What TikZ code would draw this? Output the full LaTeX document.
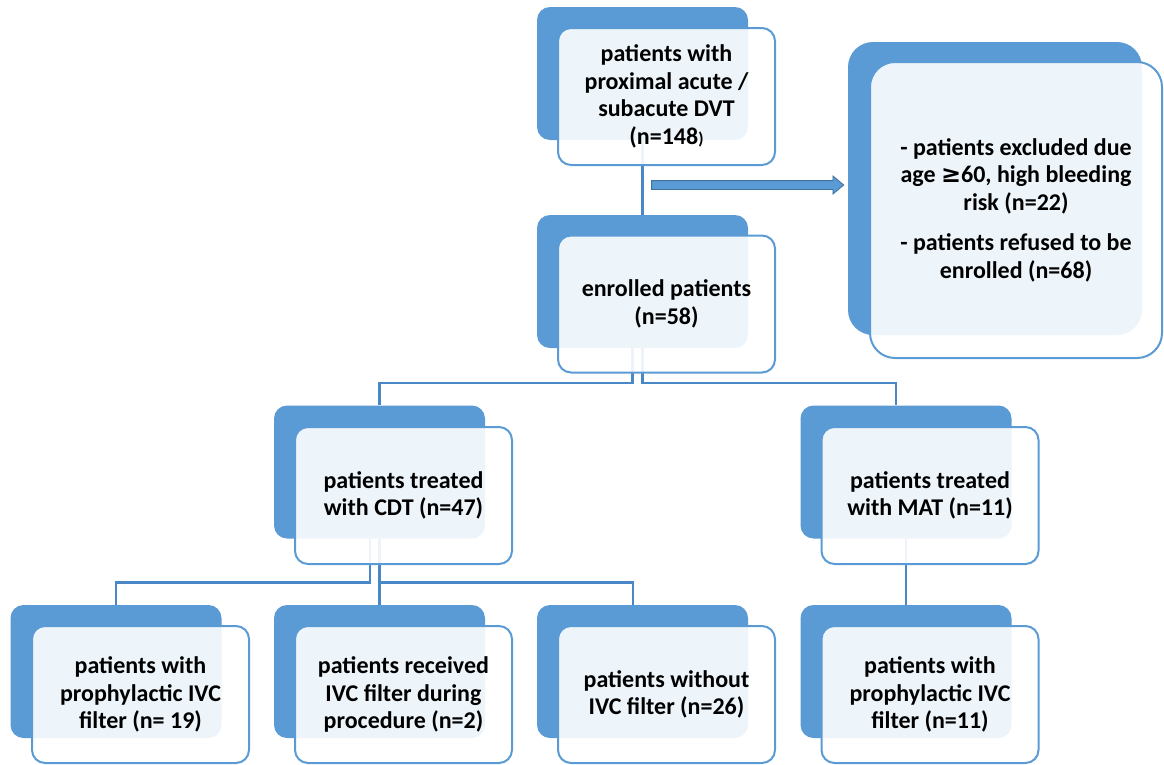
\documentclass[tikz,border=0pt]{standalone}
\usepackage{fontspec}
\setmainfont{Carlito}
\newfontfamily\symfont{DejaVu Sans}
\usetikzlibrary{shapes.arrows,backgrounds}

\definecolor{boxblue}{HTML}{5B9BD5}
\definecolor{lineblue}{HTML}{4A87C6}
\definecolor{arrowline}{HTML}{41719C}

\tikzset{
  backbox/.style={fill=boxblue, rounded corners=13pt, minimum width=211pt,
    minimum height=133pt, inner sep=0pt},
  frontbox/.style={draw=boxblue, line width=2pt, fill=white, fill opacity=0.9,
    text opacity=1, rounded corners=13pt, minimum width=217pt, minimum height=137pt,
    inner sep=0pt, align=center, font=\fontsize{24}{27.5}\selectfont\bfseries},
  link/.style={draw=lineblue, line width=2.5pt},
  exclarrow/.style={single arrow, fill=boxblue, draw=arrowline, line width=0.9pt,
    inner sep=4pt, minimum height=192pt, single arrow head extend=4.5pt,
    single arrow tip angle=80},
}

\begin{document}
\begin{tikzpicture}[x=1pt, y=-1pt]
  \useasboundingbox (0,0) rectangle (1164,764);

  %back boxes
  \node[backbox] (topB) at (642.5,73.5) {};
  \node[backbox, minimum width=294pt, minimum height=293pt, rounded corners=25pt] (exclB) at (995,188.5) {};
  \node[backbox] (enrB) at (642.5,281.5) {};
  \node[backbox] (cdtB) at (379.5,472) {};
  \node[backbox] (matB) at (906,472) {};
  \node[backbox] (b1B) at (116,671.5) {};
  \node[backbox] (b2B) at (379.5,671.5) {};
  \node[backbox] (b3B) at (642.5,671.5) {};
  \node[backbox] (b4B) at (906,671.5) {};

  %front boxes with the counts
  \node[frontbox] (topF) at ([shift={(24,23)}]topB.center)
    {patients with\\proximal acute /\\subacute DVT\\(n=148{\fontsize{17}{17}\selectfont)}};
  \node[frontbox, minimum width=292pt, minimum height=296pt, rounded corners=25pt] (exclF)
    at ([shift={(21,21.5)}]exclB.center)
    {- patients excluded due\\age {\symfont ≥}60, high bleeding\\risk (n=22)\\[13pt]
     - patients refused to be\\enrolled (n=68)};
  \node[frontbox] (enrF) at ([shift={(24,22.5)}]enrB.center) {enrolled patients\\(n=58)};
  \node[frontbox] (cdtF) at ([shift={(24,23.5)}]cdtB.center) {patients treated\\with CDT (n=47)};
  \node[frontbox] (matF) at ([shift={(24,23.5)}]matB.center) {patients treated\\with MAT (n=11)};
  \node[frontbox] (b1F) at ([shift={(24.5,23)}]b1B.center) {patients with\\prophylactic IVC\\filter (n= 19)};
  \node[frontbox] (b2F) at ([shift={(24,23)}]b2B.center) {patients received\\IVC filter during\\procedure (n=2)};
  \node[frontbox] (b3F) at ([shift={(24,23)}]b3B.center) {patients without\\IVC filter (n=26)};
  \node[frontbox] (b4F) at ([shift={(24,23)}]b4B.center) {patients with\\prophylactic IVC\\filter (n=11)};

  %excluded arrow
  \node[exclarrow] (excl) at (745,185) {};

  %tree lines, under the boxes
  \begin{pgfonlayer}{background}
    \draw[link] (topB.south) -- (enrB.north);
    \draw[link] ([xshift=-10pt]enrB.south) -- ++(0,35) -| (cdtB.north);
    \draw[link] (enrB.south) -- ++(0,35) -| ([xshift=-10pt]matB.north);
    \draw[link] ([xshift=-9.5pt]cdtB.south) -- ++(0,44) -| (b1B.north);
    \draw[link] (cdtB.south) -- (b2B.north);
    \draw[link] (cdtB.south) -- ++(0,44) -| ([xshift=-9.5pt]b3B.north);
    \draw[link] (matB.south) -- (b4B.north);
  \end{pgfonlayer}
\end{tikzpicture}
\end{document}
